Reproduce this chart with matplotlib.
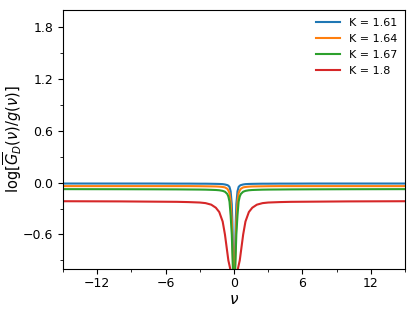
import matplotlib
matplotlib.use('Agg')
import matplotlib.pyplot as plt
import numpy as np
from matplotlib.ticker import MultipleLocator

# values for nu >= 0 (curves are symmetric in nu)
nu_half = [0, 0.05, 0.1, 0.15, 0.2, 0.3, 0.4, 0.5, 0.6, 0.8, 1.0, 1.3, 1.6,
           2.0, 2.5, 3.0, 4.0, 5.0, 7.0, 10.0, 15.0]
k_labels = ['K = 1.61', 'K = 1.64', 'K = 1.67', 'K = 1.8']
blue = [-1.3, -1.1, -0.75, -0.45, -0.25, -0.1, -0.05, -0.035, -0.028, -0.021,
        -0.017, -0.015, -0.014, -0.013, -0.012, -0.012, -0.011, -0.011,
        -0.01, -0.01, -0.01]
orange = [-1.3, -1.15, -0.9, -0.65, -0.45, -0.22, -0.12, -0.09, -0.07,
          -0.055, -0.05, -0.046, -0.044, -0.043, -0.042, -0.041, -0.04,
          -0.04, -0.04, -0.04, -0.04]
green = [-1.3, -1.2, -1.0, -0.8, -0.6, -0.38, -0.22, -0.16, -0.13, -0.105,
         -0.095, -0.088, -0.085, -0.083, -0.081, -0.08, -0.079, -0.078,
         -0.077, -0.076, -0.075]
red = [-1.4, -1.35, -1.3, -1.25, -1.18, -1.02, -0.96, -0.9, -0.8, -0.6,
       -0.45, -0.34, -0.29, -0.255, -0.237, -0.23, -0.225, -0.222, -0.22,
       -0.217, -0.215]


def mirror(vals):
    vals = np.asarray(vals, dtype=float)
    return np.concatenate([vals[:0:-1], vals])


nu = np.concatenate([-np.asarray(nu_half[:0:-1]), nu_half])

fig = plt.figure(figsize=(4.15, 3.11), dpi=100)
ax = fig.add_axes([0.152, 0.135, 0.824, 0.833])
for vals, lab in zip([blue, orange, green, red], k_labels):
    ax.plot(nu, mirror(vals), label=lab, lw=1.5)

ax.set_xlim(-15, 15)
ax.set_ylim(-1.0, 2.0)
ax.xaxis.set_major_locator(MultipleLocator(6))
ax.xaxis.set_minor_locator(MultipleLocator(3))
ax.yaxis.set_major_locator(MultipleLocator(0.6))
ax.yaxis.set_minor_locator(MultipleLocator(0.3))
ax.tick_params(labelsize=9)
ax.tick_params(axis='x', pad=2.5)
ax.set_xlabel(r'$\nu$', fontsize=11, labelpad=1)
ax.set_ylabel(r'$\log[\overline{G}_D(\nu)/g(\nu)]$', fontsize=10.5)
ax.yaxis.set_label_coords(-0.115, 0.5)
ax.legend(frameon=False, loc='upper right', fontsize=8, handlelength=2.2,
          labelspacing=0.55, borderaxespad=0.3)

fig.savefig('out.png', dpi=100)
